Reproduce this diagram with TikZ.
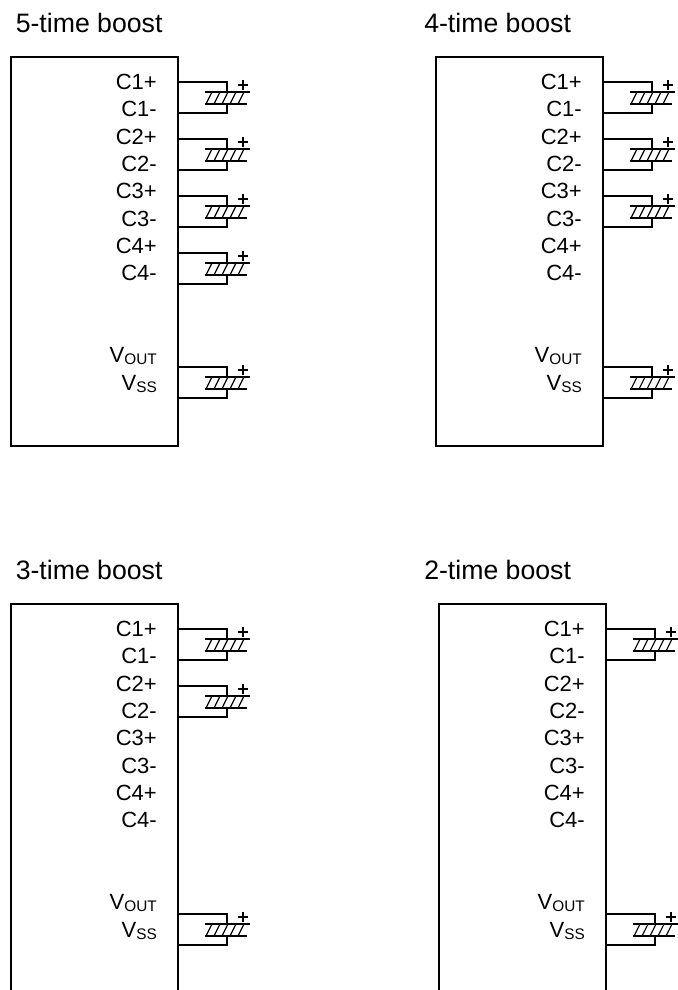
\documentclass[tikz,border=0pt]{standalone}
\usepackage{fontspec}
\setmainfont{Liberation Sans}
\newcommand{\pinsub}[1]{\raisebox{-1.5pt}{\fontsize{11.5}{12}\selectfont #1}}
\tikzset{
  chip/.style={draw, line width=1.2pt},
  wire/.style={line width=0.85pt},
  pinlabel/.style={anchor=base east, inner sep=0pt, font=\fontsize{16.5}{18}\selectfont},
  boosttitle/.style={anchor=base west, inner sep=0pt, font=\fontsize{20}{22}\selectfont},
  pics/elcap/.style={code={
    \draw[wire] (-22,10) -- (23,10) (-22,22) -- (20,22);
    \foreach \h in {0,...,4}
      \draw[wire] ({-21+8*\h},22) -- ({-15+8*\h},10);
    \draw[line width=1.1pt] (11,3) -- (21,3) (16,-2) -- (16,8);
    \coordinate (-top) at (0,10);
    \coordinate (-bot) at (0,22);
  }},
}
\begin{document}
\begin{tikzpicture}[x=0.75pt, y=-0.75pt]
\useasboundingbox (0,0) rectangle (678,990);
\clip (0,0) rectangle (678,990);

% box x / box y / title x / number of pumping caps / boost factor
\foreach \bx/\by/\tx/\n/\ttl in {11/57/15.5/4/5, 436/57/424/3/4, 11/604/15.5/2/3, 439/604/424/1/2} {
  \node[boosttitle] (title\ttl) at (\tx,\by-25) {\ttl-time boost};
  \begin{scope}[shift={(\bx,\by)}]
    \draw[chip] (0,0) coordinate (nw\ttl) rectangle (167,389) coordinate (se\ttl);
    \foreach \lbl [count=\k from 0] in {C1+,C1-,C2+,C2-,C3+,C3-,C4+,C4-}
      \node[pinlabel] (pin\ttl-\k) at (146,{32.5+27.3*\k}) {\lbl};
    \node[pinlabel] (vout\ttl) at (146,305.5) {V\pinsub{OUT}};
    \node[pinlabel] (vss\ttl) at (146,333.5) {V\pinsub{SS}};
    % flying capacitors
    \foreach \k in {1,...,\n} {
      \pgfmathsetmacro{\U}{25+57*(\k-1)}
      \coordinate (cp\ttl-\k) at (167,\U);
      \coordinate (cm\ttl-\k) at (167,\U+31);
      \pic (cap\ttl-\k) at (216,\U) {elcap};
      \draw[wire] (cp\ttl-\k) -| (cap\ttl-\k-top);
      \draw[wire] (cap\ttl-\k-bot) |- (cm\ttl-\k);
    }
    % output capacitor
    \coordinate (op\ttl) at (167,310);
    \coordinate (om\ttl) at (167,341);
    \pic (capout\ttl) at (216,310) {elcap};
    \draw[wire] (op\ttl) -| (capout\ttl-top);
    \draw[wire] (capout\ttl-bot) |- (om\ttl);
  \end{scope}
}
\end{tikzpicture}
\end{document}
